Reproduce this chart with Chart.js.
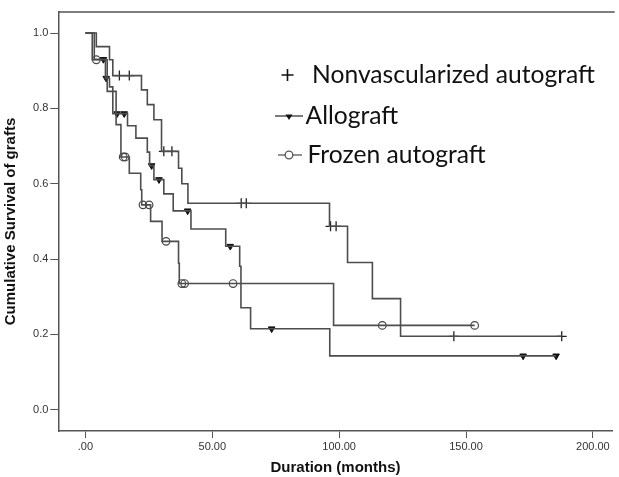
<!DOCTYPE html>
<html>
<head>
<meta charset="utf-8">
<script src="https://cdn.jsdelivr.net/npm/chart.js@4.4.1/dist/chart.umd.min.js"></script>
<style>
  html, body { margin: 0; padding: 0; background: #fff; }
  #wrap { position: relative; width: 619px; height: 477px; }
  canvas { display: block; }
</style>
</head>
<body>
<div id="wrap"><canvas id="c" width="619" height="477"></canvas></div>
<script>
// ---- Data ----
const seriesNames = ["Nonvascularized autograft", "Allograft", "Frozen autograft"];

const nonvascTime = [0, 4.3, 9.5, 10.8, 22.1, 24.4, 27.0, 30.0, 36.7, 38.0, 40.4, 96.2, 103.3, 113.1, 124.2, 187.7];
const nonvascSurv = [1.0, 0.964, 0.929, 0.887, 0.849, 0.81, 0.77, 0.686, 0.641, 0.6, 0.548, 0.487, 0.391, 0.295, 0.195, 0.195];
const nonvascCensor = [13.4, 17.3, 30.9, 34.1, 61.4, 63.4, 96.6, 98.8, 145.2, 187.7];

const alloTime = [0, 3.5, 7.9, 9.5, 10.8, 16.6, 19.9, 24.4, 25.3, 27.0, 30.9, 34.6, 41.6, 55.3, 60.8, 61.3, 65.1, 96.3, 185.5];
const alloSurv = [1.0, 0.93, 0.88, 0.857, 0.786, 0.754, 0.721, 0.684, 0.648, 0.611, 0.573, 0.528, 0.48, 0.434, 0.381, 0.271, 0.215, 0.143, 0.143];
const alloCensor = [7.1, 8.2, 12.5, 15.3, 26.1, 29.0, 40.3, 57.1, 73.4, 172.5, 185.5];

const frozenTime = [0, 2.7, 8.6, 12.1, 14.0, 17.3, 21.8, 22.2, 25.7, 30.2, 36.7, 37.0, 97.8, 153.4];
const frozenSurv = [1.0, 0.929, 0.845, 0.757, 0.671, 0.628, 0.584, 0.544, 0.5, 0.447, 0.389, 0.335, 0.224, 0.224];
const frozenCensor = [4.3, 14.9, 15.7, 22.7, 25.1, 31.8, 38.0, 39.1, 58.2, 117.0, 153.4];

const xTicks = [0, 50, 100, 150, 200];
const yTicks = [0, 0.2, 0.4, 0.6, 0.8, 1.0];
const xTitle = "Duration (months)";
const yTitle = "Cumulative Survival of grafts";

// ---- helpers ----
function curve(times, survs) { return times.map((t, i) => ({ x: t, y: survs[i] })); }
function survAt(times, survs, t) {
  let v = survs[0];
  for (let i = 0; i < times.length; i++) { if (times[i] <= t) v = survs[i]; }
  return v;
}
function censorPts(c, times, survs) { return c.map(t => ({ x: t, y: survAt(times, survs, t) })); }

const LINE = '#4d4d4d';
const lineDs = (label, data) => ({
  label, data, showLine: true, stepped: 'before', borderColor: LINE, borderWidth: 1.6,
  pointRadius: 0, fill: false
});

const tickFont = { family: "'Liberation Sans', Arial, sans-serif", size: 11 };
const titleFont = { family: "'Liberation Sans', Arial, sans-serif", size: 15, weight: 'bold' };

const framePlugin = {
  id: 'frame',
  afterDraw(chart) {
    const { ctx, chartArea: a } = chart;
    ctx.save();
    ctx.strokeStyle = '#555';
    ctx.lineWidth = 1.5;
    ctx.beginPath();
    ctx.moveTo(a.left, a.top);
    ctx.lineTo(a.right + 2, a.top);
    ctx.stroke();
    ctx.restore();
  }
};

const legendPlugin = {
  id: 'kmLegend',
  afterDraw(chart) {
    const ctx = chart.ctx;
    ctx.save();
    // fit font so the first entry matches reference width
    let size = 26;
    ctx.font = size + "px Lato, 'Open Sans', sans-serif";
    const w = ctx.measureText(seriesNames[0]).width;
    size = size * 283 / w;
    ctx.font = size.toFixed(2) + "px Lato, 'Open Sans', sans-serif";
    ctx.fillStyle = '#111';
    ctx.textBaseline = 'middle';
    ctx.textAlign = 'left';
    const rows = [75, 116, 155];
    const textX = [312, 305.5, 307.5];
    // row 1: plus marker
    ctx.strokeStyle = '#111';
    ctx.lineWidth = 1.6;
    ctx.beginPath();
    ctx.moveTo(281.5, rows[0]); ctx.lineTo(293.5, rows[0]);
    ctx.moveTo(287.5, rows[0] - 6); ctx.lineTo(287.5, rows[0] + 6);
    ctx.stroke();
    // row 2: line with down triangle
    ctx.strokeStyle = '#333';
    ctx.lineWidth = 1.3;
    ctx.beginPath(); ctx.moveTo(275, rows[1]); ctx.lineTo(303, rows[1]); ctx.stroke();
    ctx.fillStyle = '#111';
    ctx.beginPath();
    ctx.moveTo(285.5, rows[1] - 1.5); ctx.lineTo(292.5, rows[1] - 1.5); ctx.lineTo(289, rows[1] + 4);
    ctx.closePath(); ctx.fill();
    // row 3: line with circle
    ctx.strokeStyle = '#555';
    ctx.beginPath(); ctx.moveTo(278, rows[2]); ctx.lineTo(302, rows[2]); ctx.stroke();
    ctx.beginPath(); ctx.arc(289, rows[2], 3.8, 0, Math.PI * 2); ctx.fillStyle = '#fff'; ctx.fill(); ctx.stroke();
    ctx.fillStyle = '#111';
    seriesNames.forEach((n, i) => ctx.fillText(n, textX[i], rows[i]));
    ctx.restore();
  }
};

new Chart(document.getElementById('c'), {
  type: 'scatter',
  data: {
    datasets: [
      lineDs(seriesNames[0], curve(nonvascTime, nonvascSurv)),
      lineDs(seriesNames[1], curve(alloTime, alloSurv)),
      lineDs(seriesNames[2], curve(frozenTime, frozenSurv)),
      {
        label: seriesNames[0] + ' censored', data: censorPts(nonvascCensor, nonvascTime, nonvascSurv),
        showLine: false, pointStyle: 'cross', pointRadius: 5, borderColor: '#222', borderWidth: 1.3,
        backgroundColor: '#222'
      },
      {
        label: seriesNames[1] + ' censored', data: censorPts(alloCensor, alloTime, alloSurv),
        showLine: false, pointStyle: 'triangle', rotation: 180, pointRadius: 3.8, borderColor: '#111',
        borderWidth: 1, backgroundColor: '#111'
      },
      {
        label: seriesNames[2] + ' censored', data: censorPts(frozenCensor, frozenTime, frozenSurv),
        showLine: false, pointStyle: 'circle', pointRadius: 3.8, borderColor: '#444',
        borderWidth: 1.2, backgroundColor: 'rgba(255,255,255,0)'
      }
    ]
  },
  options: {
    responsive: false,
    animation: false,
    layout: { padding: { left: 0, right: 0, top: 12, bottom: 0 } },
    plugins: { legend: { display: false }, tooltip: { enabled: false } },
    scales: {
      x: {
        type: 'linear', min: -10.68, max: 207.8,
        afterBuildTicks: s => { s.ticks = xTicks.map(v => ({ value: v })); },
        afterFit: s => { s.height = 46; },
        ticks: {
          font: tickFont, color: '#333', padding: 2, maxRotation: 0, autoSkip: false,
          callback: v => v === 0 ? '.00' : Number(v).toFixed(2)
        },
        grid: { drawOnChartArea: false, drawTicks: true, tickLength: 7, color: '#555', lineWidth: 1 },
        border: { display: true, color: '#555', width: 1.5 },
        title: { display: true, text: xTitle, font: titleFont, color: '#111', padding: { top: 0, bottom: 0 } }
      },
      y: {
        type: 'linear', min: -0.0563, max: 1.0558,
        afterBuildTicks: s => { s.ticks = yTicks.map(v => ({ value: v })); },
        afterFit: s => { s.width = 58.3; },
        ticks: {
          font: tickFont, color: '#333', padding: 2, autoSkip: false,
          callback: v => Number(v).toFixed(1)
        },
        grid: { drawOnChartArea: false, drawTicks: true, tickLength: 8, color: '#555', lineWidth: 1 },
        border: { display: true, color: '#555', width: 1.5 },
        title: { display: true, text: yTitle, font: titleFont, color: '#111', padding: { top: 2, bottom: 0 } }
      }
    }
  },
  plugins: [framePlugin, legendPlugin]
});
</script>
</body>
</html>
